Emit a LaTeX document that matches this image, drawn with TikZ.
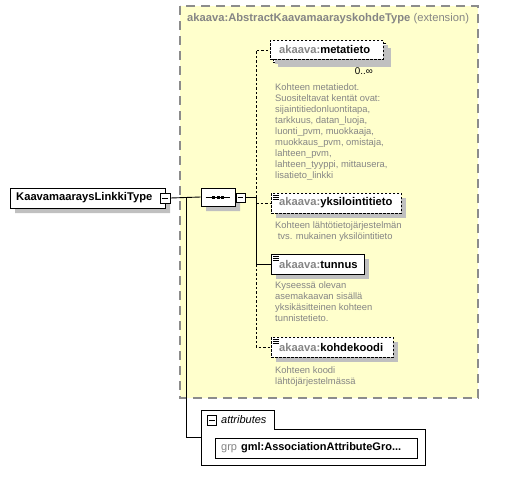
\documentclass[tikz,border=0pt]{standalone}
\usepackage{fontspec}
\setmainfont{Liberation Sans}
\usetikzlibrary{shapes.misc,shadows}
\definecolor{ylw}{HTML}{FFFFCC}
\definecolor{bordergray}{HTML}{8C8C8C}
\definecolor{txtgray}{HTML}{858585}
\definecolor{shd}{HTML}{C0C0C0}
\tikzset{
  shd/.style={drop shadow={shadow xshift=5pt, shadow yshift=-5pt, opacity=1, fill=shd}},
  ebox/.style={draw=black, fill=white, line width=0.9pt, rectangle, inner sep=0pt, anchor=north west, shd},
  optbox/.style={ebox, dash pattern=on 2.5pt off 1.5pt},
  nm/.style={inner sep=0pt, anchor=west, font=\fontsize{11.2}{13}\selectfont\bfseries},
  desc/.style={inner sep=0pt, anchor=north west, align=left, text=txtgray, font=\fontsize{9.4}{11}\selectfont},
  minusbox/.style={draw=black, fill=white, minimum size=10pt, inner sep=0pt, line width=0.8pt},
  conn/.style={draw=black, line width=0.9pt},
  dconn/.style={conn, dash pattern=on 2.5pt off 2pt},
  icon/.style={draw=black, line width=0.7pt}
}
\begin{document}
\begin{tikzpicture}[x=1pt,y=-1pt]
\useasboundingbox (0,0) rectangle (513,483);
% extension area
\fill[ylw] (180,6) rectangle (478,398);
\draw[bordergray, line width=1.2pt, dash pattern=on 9pt off 6pt] (180,6) rectangle (478,398);
\node[inner sep=0pt, anchor=west, text=txtgray, font=\fontsize{11.2}{13}\selectfont] (title) at (187,19)
  {\textbf{akaava:AbstractKaavamaarayskohdeType} (extension)};

% main type box
\node[chamfered rectangle, chamfered rectangle corners={north west,south west},
      chamfered rectangle xsep=3pt, chamfered rectangle ysep=3pt,
      draw=black, fill=white, line width=0.9pt, minimum width=155pt, minimum height=20pt, inner sep=0pt, shd]
      (main) at (87.5,198) {};
\node[nm] (mainlbl) at (16,198) {KaavamaaraysLinkkiType};
\node[minusbox] (mm) at (165,198) {};
\draw[icon] ([xshift=2pt]mm.west) -- ([xshift=-2pt]mm.east);

% sequence compositor
\node[chamfered rectangle, chamfered rectangle xsep=5pt, chamfered rectangle ysep=5pt, draw=black, fill=white, line width=0.9pt,
      minimum width=34pt, minimum height=18pt, inner sep=0pt, shd] (seq) at (218,197) {};
\draw[line width=0.9pt] ([xshift=5pt]seq.west) -- ([xshift=-5pt]seq.east);
\foreach \dx in {-4.5,0,4.5} \fill ([xshift=\dx pt]seq.center) +(-1.5,-1.5) rectangle +(1.5,1.5);
\node[minusbox, minimum size=9pt] (sm) at (240.5,197.5) {};
\draw[icon] ([xshift=2pt]sm.west) -- ([xshift=-2pt]sm.east);

% connectors main -> sequence, main -> attributes
\coordinate (j1) at (186,198);
\coordinate (attrin) at (201,437);
\draw[conn] (mm.east) -- (seq.west);
\draw[conn] (j1) |- (attrin);

% elements
\node[optbox, minimum width=113pt, minimum height=19pt, xshift=3pt, yshift=-3pt] (metaback) at (270,40) {};
\node[optbox, minimum width=113pt, minimum height=19pt] (meta) at (270,40) {};
\node[nm] (metalbl) at (279,49.5) {\textcolor{txtgray}{akaava:}metatieto};
\node[inner sep=0pt, anchor=east, font=\fontsize{9.8}{11}\selectfont] (metamult) at (373,71) {0..∞};
\node[desc] (metadesc) at (275,83.5) {Kohteen metatiedot.\\Suositeltavat kentät ovat:\\sijaintitiedonluontitapa,\\tarkkuus, datan\_luoja,\\luonti\_pvm, muokkaaja,\\muokkaus\_pvm, omistaja,\\lahteen\_pvm,\\lahteen\_tyyppi, mittausera,\\lisatieto\_linkki};

\node[optbox, minimum width=130pt, minimum height=20pt] (yks) at (271,193) {};
\node[nm] (yksl) at (279,203) {\textcolor{txtgray}{akaava:}yksilointitieto};
\node[desc] (yksdesc) at (275,221.5) {Kohteen lähtötietojärjestelmän\\\ tvs. mukainen yksilöintitieto};

\node[ebox, minimum width=93pt, minimum height=20pt] (tun) at (271,254) {};
\node[nm] (tunl) at (279,264) {\textcolor{txtgray}{akaava:}tunnus};
\node[desc] (tundesc) at (275,281.5) {Kyseessä olevan\\asemakaavan sisällä\\yksikäsitteinen kohteen\\tunnistetieto.};

\node[optbox, minimum width=122pt, minimum height=20pt] (kod) at (271,337) {};
\node[nm] (kodl) at (279,347) {\textcolor{txtgray}{akaava:}kohdekoodi};
\node[desc] (koddesc) at (275,366.5) {Kohteen koodi\\lähtöjärjestelmässä};

% simple-content icons
\foreach \b in {yks,tun,kod}{
  \draw[icon] ([shift={(2pt,-2.5pt)}]\b.north west) -- ++(6pt,0);
  \draw[icon] ([shift={(2pt,-4.5pt)}]\b.north west) -- ++(6pt,0);
  \draw[icon] ([shift={(2pt,-6.5pt)}]\b.north west) -- ++(6pt,0);
}

% sequence -> children
\coordinate (bus) at (256,197.5);
\draw[conn] (sm.east) -- (bus);
\draw[dconn] (bus) |- (meta.west);
\draw[dconn] (bus |- yks.west) -- (yks.west);
\draw[conn] (bus) |- (tun.west);
\draw[dconn] (bus |- tun.west) |- (kod.west);

% attributes
\draw[line width=0.9pt, fill=white] (201,410) -- (274,410) -- (274,429) -- (425,429) -- (425,465) -- (201,465) -- cycle;
\node[minusbox, minimum size=9.5pt] (am) at (212,420.5) {};
\draw[icon] ([xshift=2pt]am.west) -- ([xshift=-2pt]am.east);
\node[inner sep=0pt, anchor=west, font=\fontsize{11}{13}\selectfont\itshape] (attrl) at (221,420) {attributes};
\node[draw=black, fill=white, line width=0.9pt, minimum width=202pt, minimum height=20pt, inner sep=0pt, anchor=north west] (grp) at (215,438) {};
\node[inner sep=0pt, anchor=west, font=\fontsize{11}{13}\selectfont] (grpl) at (221,448)
  {\textcolor{txtgray}{grp}\hspace{4pt}\textbf{gml:AssociationAttributeGro...}};
\end{tikzpicture}
\end{document}
